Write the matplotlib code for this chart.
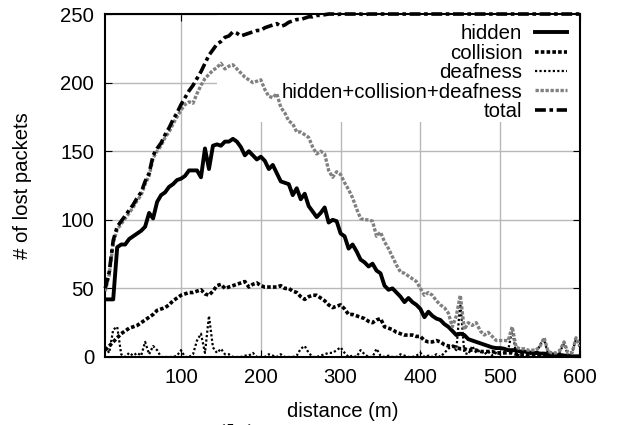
import numpy as np
import matplotlib
matplotlib.use('Agg')
import matplotlib.pyplot as plt
from matplotlib.patches import Rectangle

plt.rcParams['font.family'] = ['Liberation Sans', 'DejaVu Sans']

distance = np.arange(5, 605, 5)

hidden = [42, 42, 42, 80, 82, 82, 86, 88, 90, 92, 95, 105, 101, 113, 118, 120, 124, 126, 129, 130,
          132, 136, 136, 136, 131, 152, 137, 154, 155, 154, 157, 157, 159, 157, 153, 147, 150, 147, 144, 146,
          143, 137, 140, 134, 128, 127, 126, 118, 123, 115, 119, 110, 106, 102, 105, 109, 98, 100, 99, 90,
          88, 79, 82, 77, 71, 69, 66, 68, 63, 61, 52, 49, 50, 47, 44, 40, 43, 40, 38, 35,
          29, 33, 30, 28, 27, 24, 22, 19, 16, 17, 16, 13, 12, 11, 10, 9, 8, 7, 6.5, 6.5,
          6, 5, 5, 5, 4, 4, 3.5, 3, 3, 2.5, 2.5, 2, 2, 1.5, 1.5, 1, 1, 0.5, 0.5, 0.5]

collision = [5, 8, 11, 14, 17, 19, 21, 22, 23, 25, 27, 29, 31, 34, 35, 36, 38, 41, 43, 45,
             46, 47, 47, 48, 49, 46, 45, 48, 52, 53, 50, 51, 52, 53, 54, 55, 51, 53, 54, 52,
             51, 51, 51, 51, 52, 50, 50, 48, 47, 44, 42, 44, 45, 45, 43, 41, 38, 36, 37, 38,
             35, 31, 31, 30, 29, 28, 26, 25, 27, 28, 22, 21, 20, 18, 17, 16, 16, 16, 15, 15,
             12, 11, 11, 12, 11, 9, 8, 8, 7, 6, 6, 5, 5, 5, 4, 4, 4, 4, 3, 3,
             3, 3, 3, 2, 2, 2, 2, 2, 2, 1, 1, 1, 1, 1, 1, 1, 1, 0, 0, 0]

deafness = [7, 3, 20, 22, 2, 0, 3, 1, 3, 1, 11, 2, 8, 5, 0, 0, 0, 0, 1, 5,
            0, 0, 2, 12, 17, 3, 30, 7, 3, 6, 2, 2, 0, 0, 0, 1, 1, 3, 0, 0,
            0, 2, 1, 0, 2, 0, 0, 0, 1, 6, 8, 3, 0, 0, 1, 2, 3, 3, 5, 7,
            3, 0, 1, 0, 5, 2, 0, 0, 6, 1, 0, 1, 0, 0, 2, 1, 0, 0, 1, 3,
            0, 1, 0, 2, 0, 3, 6, 8, 5, 40, 3, 2, 8, 3, 5, 2, 4, 1, 3, 2,
            3, 5, 20, 2, 1, 2, 1, 3, 2, 9, 13, 2, 1, 0, 4, 10, 1, 3, 13, 7]

hcd = [48, 60, 83, 93, 97, 101, 105, 109, 114, 118, 126, 132, 145, 150, 154, 160, 164, 170, 175, 180,
       184, 186, 185, 192, 198, 203, 206, 209, 211, 214, 210, 212, 213, 210, 207, 204, 202, 200, 201, 202,
       195, 190, 189, 192, 182, 178, 172, 170, 164, 164, 162, 160, 153, 148, 150, 148, 136, 131, 135, 133,
       127, 122, 116, 108, 101, 100, 100, 99, 88, 91, 84, 79, 73, 67, 62, 61, 59, 57, 55, 50,
       45, 47, 45, 41, 38, 36, 32, 22, 30, 45, 20, 25, 23, 25, 19, 16, 18, 15, 12, 12,
       12, 12, 22, 7, 6, 6, 5, 5, 5, 8, 14, 4, 3, 3, 5, 11, 3, 3, 14, 8]

total = [50, 62, 85, 95, 99, 103, 107, 111, 116, 120, 128, 134, 147, 152, 156, 162, 167, 173, 178, 184,
         189, 194, 198, 203, 208, 214, 220, 224, 228, 230, 233, 234, 237, 236, 234, 235, 236, 237, 238, 238,
         240, 241, 242, 243, 241, 242, 244, 245, 246, 246, 247, 248, 248, 249, 249, 249.5, 250, 250, 249.5, 250,
         250, 250, 250, 250, 250, 249.5, 250, 250, 250, 250, 250, 250, 250, 250, 250, 250, 250, 250, 250, 250,
         250, 250, 250, 250, 250, 250, 250, 250, 250, 250, 250, 250, 250, 250, 250, 250, 250, 250, 250, 250,
         250, 250, 250, 250, 250, 250, 250, 250, 250, 250, 250, 250, 250, 250, 250, 250, 250, 250, 250, 250]

fig = plt.figure(figsize=(6.19, 4.25), dpi=100)
ax = fig.add_axes([0.170, 0.160, 0.767, 0.807])

ax.plot(distance, hidden, color='black', lw=2.8, label='hidden', zorder=3)
ax.plot(distance, collision, color='black', lw=2.6, ls=(0, (1, 0.6)), label='collision', zorder=3)
ax.plot(distance, deafness, color='black', lw=1.6, ls=(0, (1, 1)), label='deafness', zorder=3)
ax.plot(distance, hcd, color='0.5', lw=2.4, ls=(0, (1, 0.5)), label='hidden+collision+deafness', zorder=3)
ax.plot(distance, total, color='black', lw=2.6, ls=(0, (3, 1, 1, 1)), label='total', zorder=3,
        clip_on=False)

ax.set_xlim(5, 600)
ax.set_ylim(0, 250)
ax.set_xticks([100, 200, 300, 400, 500, 600])
ax.set_yticks([0, 50, 100, 150, 200, 250])
ax.grid(True, color='#b8b8b8', lw=1)
ax.set_axisbelow(True)
ax.tick_params(direction='in', top=True, right=True, length=5, labelsize=14.6, pad=8)
for s in ax.spines.values():
    s.set_linewidth(1.5)

# white key area hides the grid behind the legend
ax.add_patch(Rectangle((0.236, 0.685), 0.764, 0.315, transform=ax.transAxes,
                       facecolor='white', edgecolor='none', zorder=1))

ax.set_xlabel('distance (m)', fontsize=14.6, labelpad=11)
ax.set_ylabel('# of lost packets', fontsize=14.6, labelpad=20)

leg = ax.legend(loc='upper right', bbox_to_anchor=(0.973, 0.970), fontsize=14.7, markerfirst=False,
                handlelength=1.6, handletextpad=0.6, labelspacing=0.02, borderaxespad=0,
                borderpad=0, frameon=False)
for t in leg.get_texts():
    t.set_ha('right')

# caption of the sub-figure, cut by the bottom edge as in the source
fig.text(0.347, 0.003, '(b) Distance', fontsize=22, family='DejaVu Serif', va='top')

plt.savefig('out.png', dpi=100)
